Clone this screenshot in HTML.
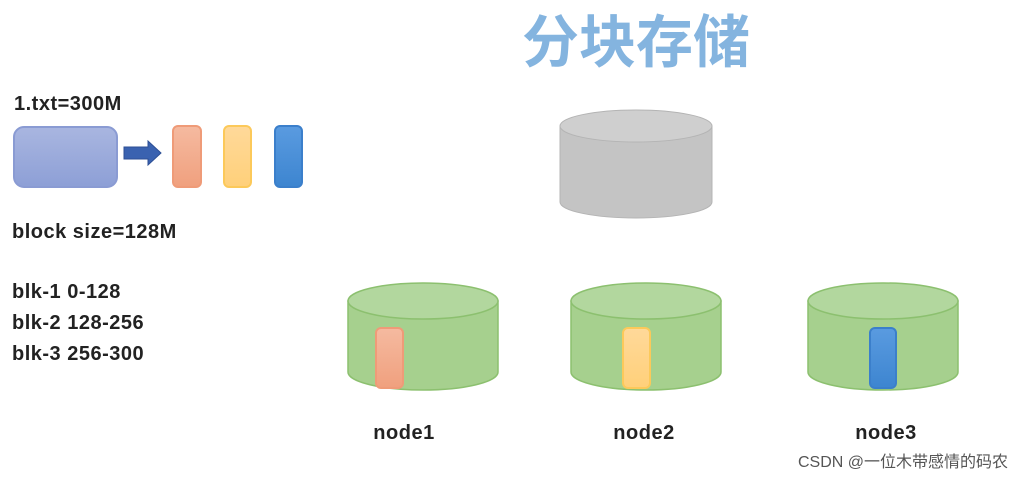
<!DOCTYPE html>
<html><head><meta charset="utf-8"><style>body{margin:0;background:#fff}svg{display:block}</style></head><body>
<svg width="1024" height="480" xmlns="http://www.w3.org/2000/svg" font-family="Liberation Sans, sans-serif">
<defs>
<linearGradient id="g1" x1="0" y1="0" x2="0" y2="1"><stop offset="0" stop-color="#a9b6e0"/><stop offset="1" stop-color="#8d9fd6"/></linearGradient>
<linearGradient id="go" x1="0" y1="0" x2="0" y2="1"><stop offset="0" stop-color="#f5baa0"/><stop offset="1" stop-color="#f0a07e"/></linearGradient>
<linearGradient id="gy" x1="0" y1="0" x2="0" y2="1"><stop offset="0" stop-color="#ffd99a"/><stop offset="1" stop-color="#ffd07a"/></linearGradient>
<linearGradient id="gb" x1="0" y1="0" x2="0" y2="1"><stop offset="0" stop-color="#5a9be0"/><stop offset="1" stop-color="#3d85d0"/></linearGradient>
</defs>
<text x="636" y="62" text-anchor="middle" font-size="57" font-weight="bold" fill="#5b9bd5" font-family="Liberation Sans, Noto Sans CJK SC, sans-serif" opacity="0.75">分块存储</text>
<g font-size="20" font-weight="bold" fill="#222" letter-spacing="0.5">
<text x="14" y="110">1.txt=300M</text>
<text x="12" y="238">block size=128M</text>
<text x="12" y="298">blk-1 0-128</text>
<text x="12" y="329">blk-2 128-256</text>
<text x="12" y="360">blk-3 256-300</text>
<text x="404" y="439" text-anchor="middle">node1</text>
<text x="644" y="439" text-anchor="middle">node2</text>
<text x="886" y="439" text-anchor="middle">node3</text>
</g>
<rect x="14" y="127" width="103" height="60" rx="10" fill="url(#g1)" stroke="#8a9bd3" stroke-width="2"/>
<polygon points="124,147 148,147 148,141 161,153 148,165 148,159 124,159" fill="#3a62b0" stroke="#2d4f95"/>
<rect x="173" y="126" width="28" height="61" rx="5" fill="url(#go)" stroke="#ef9b78" stroke-width="2"/>
<rect x="224" y="126" width="27" height="61" rx="5" fill="url(#gy)" stroke="#fcc95a" stroke-width="2"/>
<rect x="275" y="126" width="27" height="61" rx="5" fill="url(#gb)" stroke="#3b7fcb" stroke-width="2"/>
<path d="M560,126 L560,202 A76,16 0 0 0 712,202 L712,126 Z" fill="#c4c4c4" stroke="#b4b4b4"/>
<ellipse cx="636" cy="126" rx="76" ry="16" fill="#cfcfcf" stroke="#b4b4b4"/>
<g fill="#a6d08e" stroke="#8cc06f" stroke-width="1.5">
<path d="M348,301 L348,372 A75,18 0 0 0 498,372 L498,301 Z"/><ellipse cx="423" cy="301" rx="75" ry="18" fill="#b2d79e"/>
<path d="M571,301 L571,372 A75,18 0 0 0 721,372 L721,301 Z"/><ellipse cx="646" cy="301" rx="75" ry="18" fill="#b2d79e"/>
<path d="M808,301 L808,372 A75,18 0 0 0 958,372 L958,301 Z"/><ellipse cx="883" cy="301" rx="75" ry="18" fill="#b2d79e"/>
</g>
<rect x="376" y="328" width="27" height="60" rx="5" fill="url(#go)" stroke="#ef9b78" stroke-width="2"/>
<rect x="623" y="328" width="27" height="60" rx="5" fill="url(#gy)" stroke="#fcc95a" stroke-width="2"/>
<rect x="870" y="328" width="26" height="60" rx="5" fill="url(#gb)" stroke="#3b7fcb" stroke-width="2"/>
<text x="1008" y="467" font-size="16" fill="#555" text-anchor="end" font-family="Liberation Sans, Noto Sans CJK SC, sans-serif">CSDN @一位木带感情的码农</text>
</svg>
</body></html>
